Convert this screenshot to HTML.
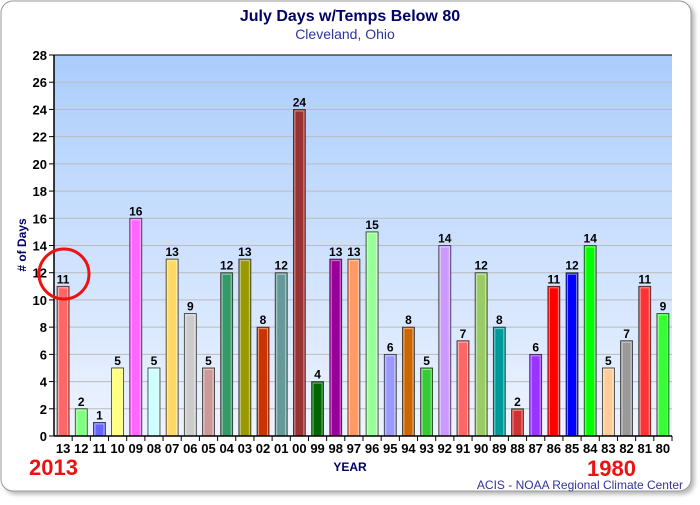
<!DOCTYPE html>
<html><head><meta charset="utf-8"><style>
body{margin:0;width:700px;height:500px;background:#fff;font-family:"Liberation Sans",sans-serif;overflow:hidden}
</style></head><body>
<svg width="700" height="500" xmlns="http://www.w3.org/2000/svg">
<defs>
<linearGradient id="bg" x1="0" y1="0" x2="0" y2="1"><stop offset="0" stop-color="#abcdfc"/><stop offset="1" stop-color="#eef4ff"/></linearGradient>
<filter id="sh"><feDropShadow dx="3" dy="3" stdDeviation="2" flood-color="#888" flood-opacity="0.6"/></filter>
</defs>
<rect x="1" y="1" width="690" height="490" rx="12" fill="#fff" stroke="#999" filter="url(#sh)"/>
<text x="350" y="21" text-anchor="middle" font-size="16" font-weight="bold" fill="#000066">July Days w/Temps Below 80</text>
<text x="345" y="39" text-anchor="middle" font-size="14" fill="#333399">Cleveland, Ohio</text>
<rect x="54" y="55" width="618" height="381" fill="url(#bg)"/>
<g id="grid"></g><g id="bars"></g><g id="axes"></g>
<text x="26" y="245" transform="rotate(-90 26 245)" text-anchor="middle" font-size="12" font-weight="bold" fill="#000066"># of Days</text>
<text x="350" y="471" text-anchor="middle" font-size="12" font-weight="bold" fill="#000066">YEAR</text>
<text x="29" y="475" font-size="22" font-weight="bold" fill="#ee1111">2013</text>
<text x="587" y="476" font-size="22" font-weight="bold" fill="#ee1111">1980</text>
<text x="683" y="489" text-anchor="end" font-size="12" fill="#333399">ACIS - NOAA Regional Climate Center</text>
<circle cx="64" cy="274" r="25" fill="none" stroke="#ee1111" stroke-width="3"/>
</svg>
<script>
const years=["13","12","11","10","09","08","07","06","05","04","03","02","01","00","99","98","97","96","95","94","93","92","91","90","89","88","87","86","85","84","83","82","81","80"];
const days=[11,2,1,5,16,5,13,9,5,12,13,8,12,24,4,13,13,15,6,8,5,14,7,12,8,2,6,11,12,14,5,7,11,9];
const colors=["#ff6666","#80ff80","#6666ff","#ffff80","#ff66ff","#ccffff","#ffd966","#cccccc","#cc9999","#339966","#999900","#cc3300","#669999","#993333","#006600","#990099","#ff9966","#99ff99","#9999ff","#cc6600","#33cc33","#cc99ff","#ff6666","#99cc66","#009999","#cc3333","#9933ff","#ff0000","#0000ff","#00ff00","#ffcc99","#999999","#ff3333","#33ff33"];
const yTicks=[0,2,4,6,8,10,12,14,16,18,20,22,24,26,28];
const NS="http://www.w3.org/2000/svg";
const L=54,R=672,T=55,B=436,YMAX=28;
const y=v=>B-(v/YMAX)*(B-T);
const step=(R-L)/years.length;
const x=i=>L+step*(i+0.5);
function mk(tag,at,parent){const e=document.createElementNS(NS,tag);for(const k in at)e.setAttribute(k,at[k]);document.getElementById(parent).appendChild(e);return e;}
yTicks.forEach(t=>{
 if(t>0){const g=mk("line",{x1:L,x2:R,y1:y(t),y2:y(t),stroke:"#bbbbbb"},"grid");
 
 }
 const tk=mk("line",{x1:L-5,x2:L,y1:y(t),y2:y(t),stroke:"#000"},"axes");
 
 
 const tl=mk("text",{x:L-7,y:y(t)+5,"text-anchor":"end","font-size":"13","font-weight":"bold",fill:"#000"},"axes");
 tl.textContent=t;
 
 
});
days.forEach((v,i)=>{
 const bw=12;
 const r=mk("rect",{x:x(i)-bw/2,y:y(v),width:bw,height:B-y(v),fill:colors[i],stroke:"#333",
 "stroke-width":"0.8"},"bars");
 
 
 const hl=mk("rect",{x:x(i)-bw/2+1.5,y:y(v)+1.5,width:bw-3,height:Math.max(0,B-y(v)-1.5),fill:"none",stroke:"rgba(255,255,255,0.5)","stroke-width":"1"},"bars");
 
 
 const vl=mk("text",{x:x(i),y:y(v)-3,"text-anchor":"middle","font-size":"12","font-weight":"bold",fill:"#000"},"bars");
 vl.textContent=v;
 
 
 const xt=mk("line",{x1:x(i)+step/2,x2:x(i)+step/2,y1:B,y2:B+5,stroke:"#000"},"axes");
 
 
 const xl=mk("text",{x:x(i),y:B+17,"text-anchor":"middle","font-size":"13","font-weight":"bold",fill:"#000"},"axes");
 xl.textContent=years[i];
 
 
});
const ya=mk("line",{x1:L,x2:L,y1:T,y2:B,stroke:"#000","stroke-width":"1.5"},"axes");


const xa=mk("line",{x1:L,x2:R,y1:B,y2:B,stroke:"#000","stroke-width":"1.5"},"axes");


const ta=mk("line",{x1:L,x2:R,y1:T,y2:T,stroke:"#000","stroke-width":"1"},"axes");


</script>
</body></html>
